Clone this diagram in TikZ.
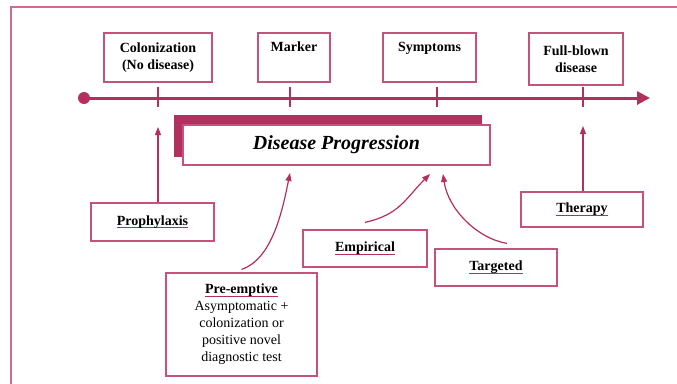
\documentclass[tikz,border=0pt]{standalone}
\usepackage{fontspec}
\setmainfont{Liberation Serif}
\usepackage{tikz}
\usetikzlibrary{arrows.meta}
\definecolor{diseasered}{RGB}{178,48,94}
\definecolor{boxline}{RGB}{196,82,122}
\colorlet{frameline}{boxline!85!white}
\newlength{\headwd}
\newcommand{\headline}[1]{\settowidth{\headwd}{#1}\rlap{\color{diseasered}\rule[-3pt]{\headwd}{1.3pt}}#1}

\begin{document}
\begin{tikzpicture}[x=1pt, y=-1pt, >=Stealth,
    stagebox/.style={draw=boxline, line width=1.2pt, align=center, inner sep=0pt,
      font=\fontsize{14}{17}\selectfont\bfseries},
    carebox/.style={draw=boxline, line width=1.2pt, align=center, inner sep=0pt,
      font=\fontsize{14}{17}\selectfont},
    arr/.style={draw=diseasered, line width=1.2pt, -{Triangle[length=8pt, width=6pt]}}]
    \useasboundingbox (0,0) rectangle (677,383);
    \clip (0,0) rectangle (677,383);

    % Outer frame
    \draw[frameline, line width=1.4pt] (11,400) -- (11,7) -- (700,7);

    % Stage boxes
    \node[stagebox, minimum width=108pt, minimum height=49pt] (colon) at (158,57.5) {Colonization\\(No disease)};
    \node[stagebox, minimum width=72pt, minimum height=49pt] (marker) at (294,57.5) {Marker\\\strut};
    \node[stagebox, minimum width=93pt, minimum height=49pt] (symptoms) at (429.5,57.5) {Symptoms\\\strut};
    \node[stagebox, minimum width=94pt, minimum height=52pt] (fullblown) at (576,59) {Full-blown\\disease};

    % Timeline
    \node[circle, fill=diseasered, minimum size=12pt, inner sep=0pt] (origin) at (84,98) {};
    \coordinate (tend) at (650,98);
    \draw[diseasered, line width=3pt, -{Triangle[length=13pt, width=13pt]}] (origin.center) -- (tend);
    \foreach \tx in {158,290,437,583}
      \draw[diseasered, line width=1.2pt] (\tx,87) -- (\tx,107);

    % Disease progression bar
    \node[fill=diseasered, minimum width=308pt, minimum height=42pt, inner sep=0pt] (shadow) at (328,136) {};
    \node[fill=white, draw=boxline, line width=1.2pt, minimum width=307pt, minimum height=40pt, inner sep=0pt,
      font=\fontsize{20}{24}\selectfont\bfseries\itshape] (progress) at (336.5,145) {Disease Progression};

    % Strategy boxes
    \node[carebox, font=\fontsize{14}{17}\selectfont\bfseries, minimum width=123pt, minimum height=38pt] (proph) at (152.5,222) {\headline{Prophylaxis}};
    \node[carebox, minimum width=151pt, minimum height=103pt] (preempt) at (241.5,324.5)
      {\textbf{\headline{Pre-emptive}}\\Asymptomatic +\\colonization or\\positive novel\\diagnostic test};
    \node[carebox, font=\fontsize{14}{17}\selectfont\bfseries, minimum width=124pt, minimum height=37pt] (empir) at (365,248.5) {\headline{Empirical}};
    \node[carebox, font=\fontsize{14}{17}\selectfont\bfseries, minimum width=122pt, minimum height=37pt] (target) at (496,267.5) {\headline{Targeted}};
    \node[carebox, font=\fontsize{14}{17}\selectfont\bfseries, minimum width=122pt, minimum height=35pt] (therapy) at (582,209.5) {\headline{Therapy}};

    % Arrows
    \coordinate (hitproph) at (158,127);
    \coordinate (hitpre) at (290,173);
    \coordinate (hitemp) at (430,174);
    \coordinate (hittarg) at (443,174);
    \coordinate (hittherapy) at (583,126);
    \draw[arr] (proph.north -| hitproph) -- (hitproph);
    \draw[arr] ([yshift=3pt]preempt.north) .. controls +(30,-10) and +(-8,40) .. (hitpre);
    \draw[arr] ([yshift=7pt]empir.north) .. controls +(35,-8) and +(-25,25) .. (hitemp);
    \draw[arr] ([xshift=11pt, yshift=5pt]target.north) .. controls +(-30,-5) and +(5,35) .. (hittarg);
    \draw[arr] (therapy.north -| hittherapy) -- (hittherapy);
\end{tikzpicture}
\end{document}
